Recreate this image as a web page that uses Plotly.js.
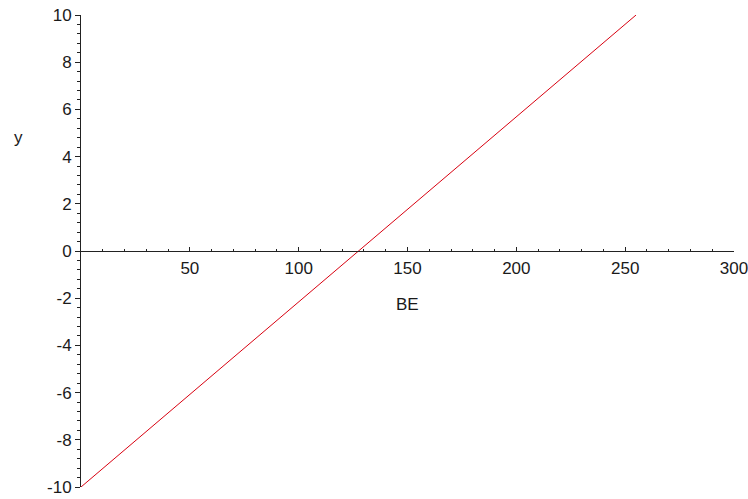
<!DOCTYPE html>
<html>
<head>
<meta charset="utf-8">
<script src="https://cdn.plot.ly/plotly-3.0.1.min.js"></script>
<style>
  html, body { margin: 0; padding: 0; background: #fff; }
  #plot { width: 748px; height: 499px; }
</style>
</head>
<body>
<div id="plot"></div>
<script>
// Straight line y against BE
const beValues = [0, 255];
const yValues = [-10, 10];

// Axis tick positions and labels
const xTickVals = [50, 100, 150, 200, 250, 300];
const xTickText = ["50", "100", "150", "200", "250", "300"];
const yTickVals = [-10, -8, -6, -4, -2, 0, 2, 4, 6, 8, 10];
const yTickText = ["-10", "-8", "-6", "-4", "-2", "0", "2", "4", "6", "8", "10"];

const axisColor = "#222222";
const labelFont = { family: "Liberation Sans, Arial, sans-serif", size: 17, color: "#1a1a1a" };

const trace = {
  x: beValues,
  y: yValues,
  mode: "lines",
  type: "scatter",
  line: { color: "#d80010", width: 1 },
  hoverinfo: "skip"
};

const layout = {
  width: 748,
  height: 499,
  margin: { l: 81, r: 14, t: 15, b: 12 },
  paper_bgcolor: "#ffffff",
  plot_bgcolor: "#ffffff",
  showlegend: false,
  xaxis: {
    range: [0, 300],
    anchor: "free",
    position: 0.5,
    showgrid: false,
    zeroline: false,
    showline: true,
    linecolor: axisColor,
    linewidth: 1,
    tickmode: "array",
    tickvals: xTickVals,
    ticktext: xTickText,
    ticks: "inside",
    ticklen: 4,
    tickcolor: axisColor,
    tickfont: labelFont,
    ticklabelstandoff: 2,
    ticklabeloverflow: "allow",
    minor: { dtick: 10, tick0: 0, ticks: "inside", ticklen: 2, tickcolor: axisColor, showgrid: false }
  },
  yaxis: {
    range: [-10, 10],
    showgrid: false,
    zeroline: false,
    showline: true,
    linecolor: axisColor,
    linewidth: 1,
    tickmode: "array",
    tickvals: yTickVals,
    ticktext: yTickText,
    ticks: "outside",
    ticklen: 5,
    tickcolor: axisColor,
    tickfont: labelFont,
    ticklabeloverflow: "allow",
    minor: { dtick: 0.4, tick0: 0, ticks: "outside", ticklen: 3, tickcolor: axisColor, showgrid: false }
  },
  annotations: [
    {
      text: "BE",
      xref: "paper", yref: "paper",
      x: 0.5, y: 0.5,
      xanchor: "center", yanchor: "middle",
      yshift: -53,
      showarrow: false,
      font: labelFont
    },
    {
      text: "y",
      xref: "paper", yref: "paper",
      x: 0, y: 0.74,
      xanchor: "center", yanchor: "middle",
      xshift: -63,
      showarrow: false,
      font: labelFont
    }
  ]
};

Plotly.newPlot("plot", [trace], layout, { staticPlot: true, displayModeBar: false });
</script>
</body>
</html>
